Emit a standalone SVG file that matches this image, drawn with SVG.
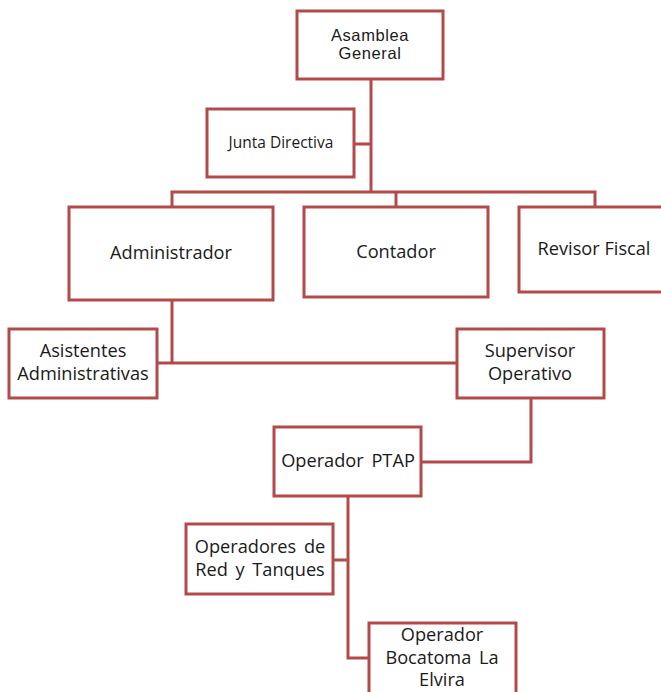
<svg xmlns="http://www.w3.org/2000/svg" width="661" height="692" viewBox="0 0 661 692">
<style>
.box{fill:#ffffff;stroke:#b24a4a;stroke-width:3}
.ln{fill:none;stroke:#b24a4a;stroke-width:3}
text{font-family:"Open Sans","Noto Sans","Liberation Sans",sans-serif;font-size:18.2px;fill:#1a1a1a;text-anchor:middle}
.a{font-family:"Liberation Sans",Arial,sans-serif;font-size:16.5px;letter-spacing:0.6px}
.s{font-size:15.5px}
.w{word-spacing:3px}
</style>
<rect width="661" height="692" fill="#ffffff"/>
<g id="connectors">
<path class="ln" d="M371 79 V192"/>
<path class="ln" d="M354 144 H371"/>
<path class="ln" d="M172 207 V192 H595 V207"/>
<path class="ln" d="M396 192 V207"/>
<path class="ln" d="M172 300 V363"/>
<path class="ln" d="M157 363 H457"/>
<path class="ln" d="M531 398 V462 H421"/>
<path class="ln" d="M348 496 V658 H369"/>
<path class="ln" d="M333 560 H348"/>
</g>
<g id="asamblea">
<rect class="box" x="297" y="11" width="146" height="68"/>
<text class="a" x="370" y="41">Asamblea</text>
<text class="a" x="370" y="59">General</text>
</g>
<g id="junta">
<rect class="box" x="207" y="109" width="147" height="68"/>
<text class="s" x="281" y="148">Junta Directiva</text>
</g>
<g id="administrador">
<rect class="box" x="69" y="207" width="204" height="93"/>
<text x="171" y="259">Administrador</text>
</g>
<g id="contador">
<rect class="box" x="304" y="207" width="184" height="90"/>
<text x="396" y="258">Contador</text>
</g>
<g id="revisor">
<rect class="box" x="519" y="207" width="145" height="85"/>
<text x="594" y="255">Revisor Fiscal</text>
</g>
<g id="asistentes">
<rect class="box" x="9" y="329" width="148" height="69"/>
<text x="83" y="357">Asistentes</text>
<text x="83" y="380">Administrativas</text>
</g>
<g id="supervisor">
<rect class="box" x="457" y="329" width="147" height="69"/>
<text x="530" y="357">Supervisor</text>
<text x="530" y="380">Operativo</text>
</g>
<g id="ptap">
<rect class="box" x="274" y="427" width="147" height="69"/>
<text class="w" x="348" y="467">Operador PTAP</text>
</g>
<g id="operadores">
<rect class="box" x="186" y="524" width="147" height="70"/>
<text class="w" x="260" y="553">Operadores de</text>
<text class="w" x="260" y="576">Red y Tanques</text>
</g>
<g id="bocatoma">
<rect class="box" x="369" y="623" width="147" height="75"/>
<text x="442" y="641">Operador</text>
<text class="w" x="442" y="664">Bocatoma La</text>
<text x="442" y="686">Elvira</text>
</g>
</svg>
